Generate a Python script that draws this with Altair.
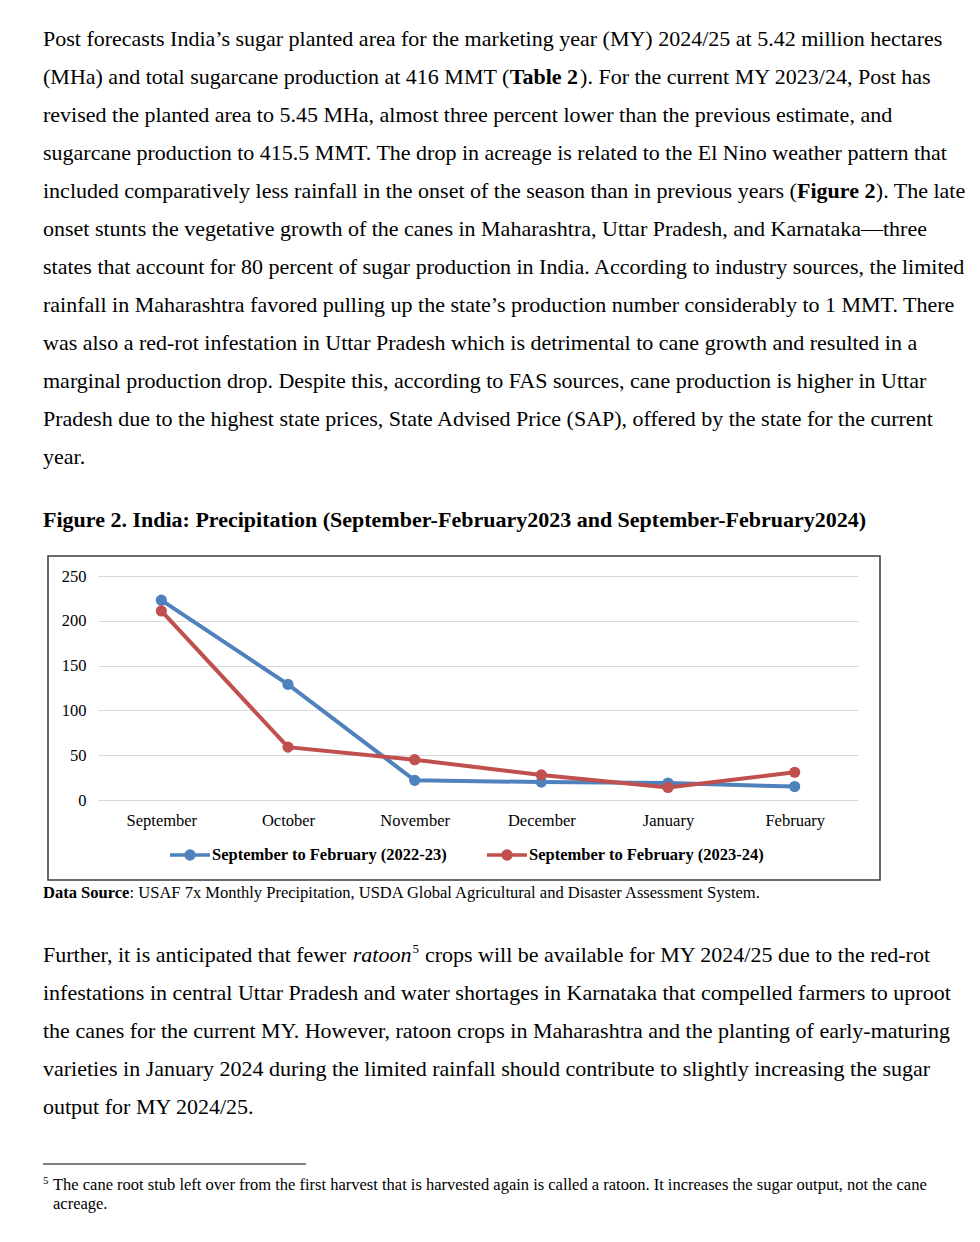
import altair as alt
import pandas as pd

# ---------------- data ----------------
months = ["September", "October", "November", "December", "January", "February"]
series_names = ["September to February (2022-23)", "September to February (2023-24)"]
precip_2022_23 = [223, 129, 22, 20, 19, 15]
precip_2023_24 = [211, 59, 45, 28, 14, 31]
y_ticks = [0, 50, 100, 150, 200, 250]
series_colors = ["#4F81BD", "#C0504D"]

para1_lines = [
    "Post forecasts India\u2019s sugar planted area for the marketing year (MY) 2024/25 at 5.42 million hectares",
    "(MHa) and total sugarcane production at 416 MMT (",
    "revised the planted area to 5.45 MHa, almost three percent lower than the previous estimate, and",
    "sugarcane production to 415.5 MMT. The drop in acreage is related to the El Nino weather pattern that",
    "included comparatively less rainfall in the onset of the season than in previous years (",
    "onset stunts the vegetative growth of the canes in Maharashtra, Uttar Pradesh, and Karnataka\u2014three",
    "states that account for 80 percent of sugar production in India. According to industry sources, the limited",
    "rainfall in Maharashtra favored pulling up the state\u2019s production number considerably to 1 MMT. There",
    "was also a red-rot infestation in Uttar Pradesh which is detrimental to cane growth and resulted in a",
    "marginal production drop. Despite this, according to FAS sources, cane production is higher in Uttar",
    "Pradesh due to the highest state prices, State Advised Price (SAP), offered by the state for the current",
    "year.",
]
para1_bold_1 = "Table 2"
para1_after_1 = "). For the current MY 2023/24, Post has"
para1_bold_2 = "Figure 2"
para1_after_2 = "). The late"

caption = "Figure 2. India: Precipitation (September-February2023 and September-February2024)"
source_bold = "Data Source"
source_rest = ": USAF 7x Monthly Precipitation, USDA Global Agricultural and Disaster Assessment System."

para2_first_a = "Further, it is anticipated that fewer "
para2_italic = "ratoon"
para2_sup = "5"
para2_first_b = "crops will be available for MY 2024/25 due to the red-rot"
para2_lines = [
    "infestations in central Uttar Pradesh and water shortages in Karnataka that compelled farmers to uproot",
    "the canes for the current MY. However, ratoon crops in Maharashtra and the planting of early-maturing",
    "varieties in January 2024 during the limited rainfall should contribute to slightly increasing the sugar",
    "output for MY 2024/25.",
]
foot_sup = "5"
foot_lines = [
    "The cane root stub left over from the first harvest that is harvested again is called a ratoon. It increases the sugar output, not the cane",
    "acreage.",
]

rows = []
for name, vals in zip(series_names, [precip_2022_23, precip_2023_24]):
    for m, v in zip(months, vals):
        rows.append({"month": m, "value": v, "series": name})
df = pd.DataFrame(rows)

# ---------------- layout helpers ----------------
FONT = "Liberation Serif"
BODY = 22
X0, Y0 = 98, 576  # plot-area origin on the page

# Times-compatible advance widths (1/1000 em) used to chain inline text runs
_REG = {" ": 250, "(": 333, ")": 333, ",": 250, ".": 250, "-": 333, "/": 278, "\u2019": 333,
        "A": 722, "B": 667, "C": 667, "D": 722, "E": 611, "F": 556, "G": 722, "H": 722, "I": 333,
        "J": 389, "K": 722, "L": 611, "M": 889, "N": 722, "O": 722, "P": 556, "Q": 722, "R": 667,
        "S": 556, "T": 611, "U": 722, "V": 722, "W": 944, "X": 722, "Y": 722, "Z": 611,
        "a": 444, "b": 500, "c": 444, "d": 500, "e": 444, "f": 333, "g": 500, "h": 500, "i": 278,
        "j": 278, "k": 500, "l": 278, "m": 778, "n": 500, "o": 500, "p": 500, "q": 500, "r": 333,
        "s": 389, "t": 278, "u": 500, "v": 500, "w": 722, "x": 500, "y": 500, "z": 444}
_BOLD = {" ": 250, "2": 500, "T": 667, "a": 500, "b": 556, "l": 278, "e": 444, "F": 611, "i": 278,
         "g": 500, "u": 556, "r": 444, "D": 722, "S": 556, "o": 500, "c": 444, "t": 333}
_ITAL = {"r": 389, "a": 500, "t": 278, "o": 500, "n": 500}


def tw(s, size, table=_REG):
    return sum(table.get(c, 500) for c in s) * size / 1000.0


one = alt.Data(values=[{"k": 0}])


def txt(text, px, py, size, weight="normal", style="normal", lh=38):
    return alt.Chart(one).mark_text(
        align="left", baseline="alphabetic", font=FONT, fontSize=size,
        fontWeight=weight, fontStyle=style, lineHeight=lh, color="#000000"
    ).encode(x=alt.value(px - X0), y=alt.value(py - Y0), text=alt.value(text))


legend_symbol = ("M-1,0H1"
                 "M-0.2,0A0.2,0.2 0 1,0 0.2,0A0.2,0.2 0 1,0 -0.2,0"
                 "M-0.1,0A0.1,0.1 0 1,0 0.1,0A0.1,0.1 0 1,0 -0.1,0")

color_scale = alt.Scale(domain=series_names, range=series_colors)

base = alt.Chart(df).encode(
    x=alt.X("month:N", sort=months,
            axis=alt.Axis(title=None, labelAngle=0, domain=False, ticks=False,
                          labelPadding=12, labelFont=FONT, labelFontSize=16.5,
                          labelColor="#000000", grid=False)),
    y=alt.Y("value:Q", scale=alt.Scale(domain=[0, 250]),
            axis=alt.Axis(title=None, values=y_ticks, domain=False, ticks=False,
                          labelPadding=12, labelFont=FONT, labelFontSize=16.5,
                          labelColor="#000000", grid=True, gridColor="#D9D9D9",
                          gridWidth=1.2)),
)

lines = base.mark_line(strokeWidth=4).encode(
    color=alt.Color(
        "series:N", scale=color_scale,
        legend=alt.Legend(
            title=None, orient="none", direction="horizontal",
            legendX=168 - X0, legendY=833 - Y0,
            symbolType=legend_symbol, symbolSize=1600, symbolStrokeWidth=3.5,
            labelOffset=0, columnPadding=32,
            labelFont=FONT, labelFontSize=16.5, labelFontWeight="bold",
            labelColor="#000000", labelLimit=400,
        ),
    )
)
points = base.mark_circle(size=125, opacity=1).encode(
    color=alt.Color("series:N", scale=color_scale)
)

frame = alt.Chart(one).mark_rect(filled=False, stroke="#3A3A3A", strokeWidth=1.5).encode(
    x=alt.value(48 - X0), x2=alt.value(880 - X0),
    y=alt.value(556 - Y0), y2=alt.value(880 - Y0),
)
foot_rule = alt.Chart(one).mark_rule(stroke="#000000", strokeWidth=1).encode(
    x=alt.value(43 - X0), x2=alt.value(306 - X0), y=alt.value(1164 - Y0)
)

L = 43
x_b1 = L + tw(para1_lines[1], BODY)
x_a1 = x_b1 + tw(para1_bold_1, BODY, _BOLD)
x_b2 = L + tw(para1_lines[4], BODY)
x_a2 = x_b2 + tw(para1_bold_2, BODY, _BOLD)
x_it = L + tw(para2_first_a, BODY)
x_sup = x_it + tw(para2_italic, BODY, _ITAL) + 1
x_rest = x_sup + 7 + tw(" ", BODY)
x_src = L + tw(source_bold, 16.5, _BOLD)

layers = [
    frame,
    lines,
    points,
    txt(para1_lines, L, 46, BODY),
    txt(para1_bold_1, x_b1, 84, BODY, weight="bold"),
    txt(para1_after_1, x_a1, 84, BODY),
    txt(para1_bold_2, x_b2, 198, BODY, weight="bold"),
    txt(para1_after_2, x_a2, 198, BODY),
    txt(caption, L, 527, BODY, weight="bold"),
    txt(source_bold, L, 898, 16.5, weight="bold"),
    txt(source_rest, x_src, 898, 16.5),
    txt(para2_first_a, L, 962, BODY),
    txt(para2_italic, x_it, 962, BODY, style="italic"),
    txt(para2_sup, x_sup, 953, 13),
    txt(para2_first_b, x_rest, 962, BODY),
    txt(para2_lines, L, 1000, BODY),
    foot_rule,
    txt(foot_sup, L, 1184, 11),
    txt(foot_lines, 53, 1190, 16.5, lh=19),
]

chart = alt.layer(*layers).properties(
    width=760, height=224,
    autosize=alt.AutoSizeParams(type="none"),
    padding={"left": X0 - 8, "top": Y0 - 8, "right": 980 - 16 - (X0 - 8) - 760,
             "bottom": 1242 - 16 - (Y0 - 8) - 224},
    background="#FFFFFF",
    view=alt.ViewBackground(stroke="transparent", strokeWidth=0),
).configure_view(strokeWidth=0, stroke="transparent").configure(font=FONT)

chart.save("out.html", embed_options={"renderer": "svg", "actions": False})
